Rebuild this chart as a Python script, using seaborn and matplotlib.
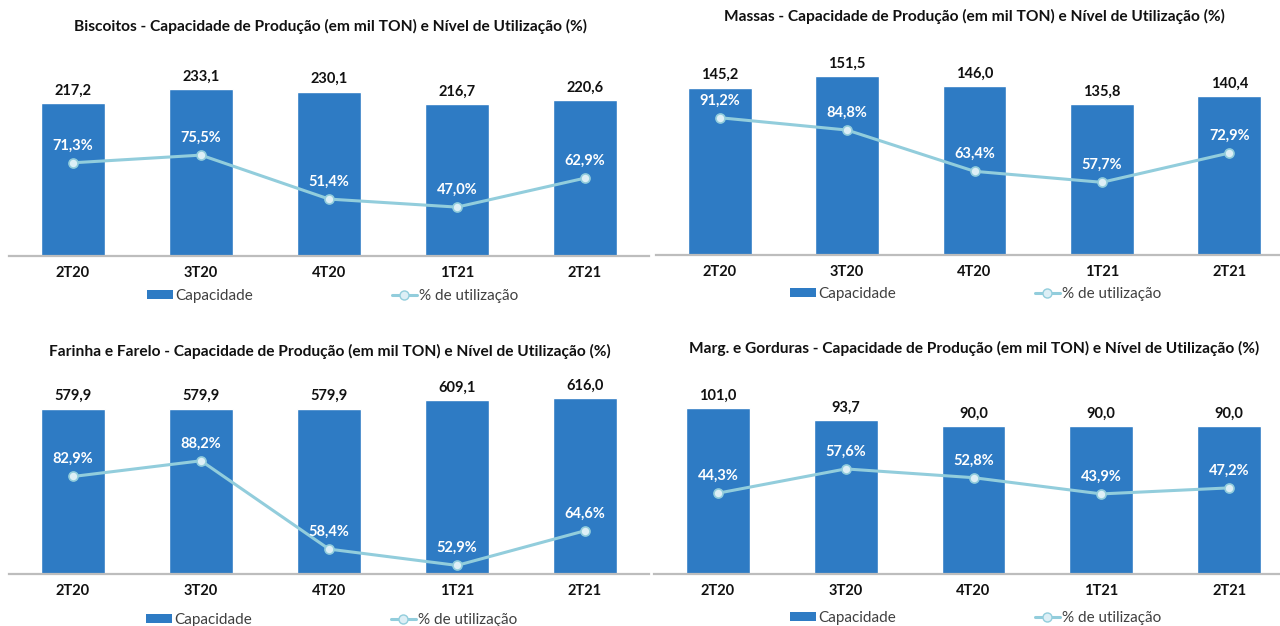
import numpy as np
import pandas as pd
import matplotlib
matplotlib.use("Agg")
import matplotlib.pyplot as plt
import seaborn as sns
from matplotlib.patches import Patch
from matplotlib.lines import Line2D

# ---------------- data ----------------
quarters = ["2T20", "3T20", "4T20", "1T21", "2T21"]

biscoitos_cap = [217.2, 233.1, 230.1, 216.7, 220.6]
biscoitos_util = [71.3, 75.5, 51.4, 47.0, 62.9]

massas_cap = [145.2, 151.5, 146.0, 135.8, 140.4]
massas_util = [91.2, 84.8, 63.4, 57.7, 72.9]

farinha_cap = [579.9, 579.9, 579.9, 609.1, 616.0]
farinha_util = [82.9, 88.2, 58.4, 52.9, 64.6]

marg_cap = [101.0, 93.7, 90.0, 90.0, 90.0]
marg_util = [44.3, 57.6, 52.8, 43.9, 47.2]

titles = [
    "Biscoitos - Capacidade de Produção (em mil TON) e Nível de Utilização (%)",
    "Massas - Capacidade de Produção (em mil TON) e Nível de Utilização (%)",
    "Farinha e Farelo - Capacidade de Produção (em mil TON) e Nível de Utilização (%)",
    "Marg. e Gorduras - Capacidade de Produção (em mil TON) e Nível de Utilização (%)",
]
legend_labels = ["Capacidade", "% de utilização"]

# ---------------- style ----------------
BAR = "#2E7BC4"
LINE = "#92CDDC"
MFACE = "#DDEFF6"
W, H = 1280, 626

sns.set_theme(style="white")
plt.rcParams["font.family"] = ["Lato", "DejaVu Sans"]

fig = plt.figure(figsize=(W / 100, H / 100), dpi=100)


def fmt(v, pct=False):
    s = f"{v:.1f}".replace(".", ",")
    return s + "%" if pct else s


panels = [
    dict(title=titles[0], cap=biscoitos_cap, util=biscoitos_util,
         box=(9, 649, 40, 256), bar_ylim=(50, 286.8), line_ylim=(20.2, 138.6),
         title_xy=(330, 26), legend_xy=(333, 296)),
    dict(title=titles[1], cap=massas_cap, util=massas_util,
         box=(656, 1293, 40, 255), bar_ylim=(50, 172.2), line_ylim=(20.0, 131.5),
         title_xy=(974, 16), legend_xy=(976, 294)),
    dict(title=titles[2], cap=farinha_cap, util=farinha_util,
         box=(9, 649, 360, 574), bar_ylim=(0, 750.9), line_ylim=(50.0, 122.2),
         title_xy=(330, 351), legend_xy=(332, 620)),
    dict(title=titles[3], cap=marg_cap, util=marg_util,
         box=(654, 1293, 360, 574), bar_ylim=(0, 130.5), line_ylim=(0.0, 117.3),
         title_xy=(974, 348), legend_xy=(976, 618)),
]

for p in panels:
    l, r, t, b = p["box"]
    ax = fig.add_axes([l / W, 1 - b / H, (r - l) / W, (b - t) / H])
    df = pd.DataFrame({"q": quarters, "cap": p["cap"], "util": p["util"]})

    sns.barplot(data=df, x="q", y="cap", color=BAR, saturation=1, width=0.5,
                ax=ax, errorbar=None)
    ax.set_ylim(*p["bar_ylim"])
    ax.set_xlim(-0.5, 4.5)
    ax.bar_label(ax.containers[0], labels=[fmt(v) for v in p["cap"]],
                 padding=4, fontsize=10.5, fontweight="bold", color="#111111")

    for s in ["top", "right", "left"]:
        ax.spines[s].set_visible(False)
    ax.spines["bottom"].set_color("#BDBDBD")
    ax.spines["bottom"].set_linewidth(1.6)
    ax.set_yticks([])
    ax.set_xlabel("")
    ax.set_ylabel("")
    ax.tick_params(axis="x", length=0, pad=7)
    for lab in ax.get_xticklabels():
        lab.set_fontweight("bold")
        lab.set_fontsize(10.5)
        lab.set_color("#111111")

    ax2 = ax.twinx()
    sns.pointplot(data=df, x="q", y="util", color=LINE, ax=ax2, errorbar=None,
                  markers="o", linestyles="-", linewidth=2.2, markersize=6.5,
                  markerfacecolor=MFACE, markeredgecolor=LINE, markeredgewidth=1.2)
    ax2.set_ylim(*p["line_ylim"])
    ax2.set_xlim(-0.5, 4.5)
    ax2.set_yticks([])
    ax2.set_ylabel("")
    for s in ax2.spines.values():
        s.set_visible(False)
    for i, v in enumerate(p["util"]):
        ax2.annotate(fmt(v, pct=True), xy=(i, v), xytext=(0, 12.5),
                     textcoords="offset points", ha="center", va="center",
                     fontsize=10.5, fontweight="bold", color="white")

    fig.text(p["title_xy"][0] / W, 1 - p["title_xy"][1] / H, p["title"],
             ha="center", va="center", fontsize=11.2, fontweight="bold",
             color="#111111")

    handles = [
        Patch(facecolor=BAR, edgecolor="none"),
        Line2D([], [], color=LINE, lw=2.2, marker="o", markersize=6.5,
               markerfacecolor=MFACE, markeredgecolor=LINE),
    ]
    leg = ax.legend(handles, legend_labels, ncol=2, loc="center",
                    bbox_to_anchor=(p["legend_xy"][0] / W, 1 - p["legend_xy"][1] / H),
                    bbox_transform=fig.transFigure, frameon=False,
                    fontsize=11, columnspacing=9.1, handlelength=1.65,
                    handleheight=0.52, handletextpad=0.15, borderpad=0)
    for txt in leg.get_texts():
        txt.set_color("#404040")

fig.savefig("out.png", dpi=100, facecolor="white")
